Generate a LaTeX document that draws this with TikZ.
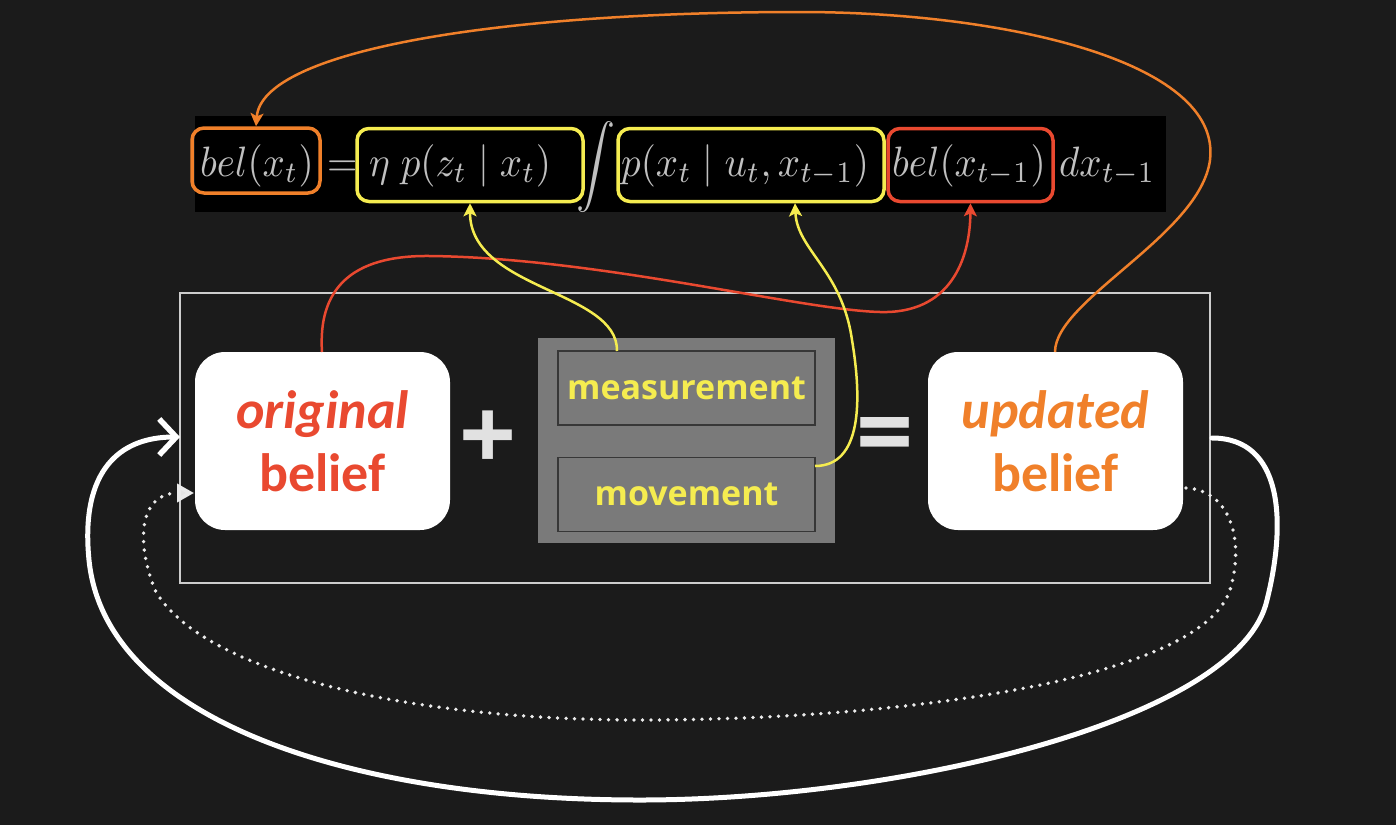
\documentclass[tikz,border=0pt]{standalone}
\usepackage{graphicx}
\usepackage{fontspec}
\newfontfamily\belieffont{Carlito}
\newfontfamily\labfont{Open Sans}
\usetikzlibrary{arrows.meta}
\newcommand{\formulapart}[1]{\scalebox{3.9}[4.25]{$#1$}}
\definecolor{bg}{RGB}{27,27,27}
\definecolor{fgray}{RGB}{192,192,192}
\definecolor{morange}{RGB}{240,128,42}
\definecolor{mred}{RGB}{233,73,48}
\definecolor{myellow}{RGB}{245,236,80}
\definecolor{boxgray}{RGB}{122,122,122}
\definecolor{innerline}{RGB}{55,55,55}
\definecolor{framegray}{RGB}{205,205,205}
\definecolor{opgray}{RGB}{225,225,225}
\begin{document}
\begin{tikzpicture}[x=1pt,y=-1pt,
  mathtxt/.style={text=fgray, inner sep=0pt, anchor=base west},
  termbox/.style={draw=#1, line width=3.5pt, rounded corners=12pt, inner sep=0pt},
  beliefbox/.style={fill=white, rounded corners=30pt, minimum width=255pt, minimum height=178pt,
    inner sep=0pt, align=center, text=#1, font=\belieffont\bfseries\fontsize{54}{63}\selectfont},
  innerbox/.style={draw=innerline, line width=1.5pt, fill=boxgray, minimum width=257pt,
    minimum height=74pt, inner sep=0pt, text=myellow, font=\labfont\bfseries\fontsize{34}{40}\selectfont},
  opsign/.style={text=opgray, inner sep=0pt, font=\labfont\bfseries\fontsize{100}{100}\selectfont},
  thinarrow/.style={line width=2.5pt, -{Stealth[length=13pt,width=13pt,inset=3pt]}},
  loopline/.style={draw=white, line width=5pt, line cap=round},
  dotline/.style={draw=white!92!black, line width=3.8pt, line cap=round, dash pattern=on 0pt off 8.5pt}
]
\useasboundingbox (0,0) rectangle (1396,825);
\fill[bg] (0,0) rectangle (1396,825);

% formula
\fill[black] (195,116) rectangle (1166,212);
\node[termbox=morange, minimum width=128pt, minimum height=65pt] (bA) at (256,160.5) {};
\node[termbox=myellow, minimum width=226pt, minimum height=73pt] (bB) at (470,165) {};
\node[termbox=myellow, minimum width=266pt, minimum height=73pt] (bC) at (751,165) {};
\node[termbox=mred, minimum width=165pt, minimum height=73pt] (bD) at (970.5,165) {};
\node[mathtxt] (tA) at (200,176) {\formulapart{bel(x_t)}};
\node[mathtxt] (tEq) at (327,176) {\formulapart{=}};
\node[mathtxt] (tB) at (369,176) {\formulapart{\eta\;p(z_t\mid x_t)}};
\node[mathtxt, anchor=center] (tInt) at (596,167) {\scalebox{3.9}[4.1]{$\displaystyle\int$}};
\node[mathtxt] (tC) at (621,176) {\formulapart{p(x_t\mid u_t,x_{t-1})}};
\node[mathtxt] (tD) at (892,176) {\formulapart{bel(x_{t-1})}};
\node[mathtxt] (tE) at (1059,176) {\formulapart{dx_{t-1}}};

% lower part
\draw[framegray, line width=1.3pt] (180,293) rectangle (1210,583);
\node[beliefbox=mred] (ob) at (322.5,441) {{\itshape original}\\belief};
\node[opsign] (plus) at (488,441) {+};
\fill[boxgray] (538,338) rectangle (835,543);
\node[innerbox] (meas) at (686.5,388) {measurement};
\node[innerbox] (move) at (686.5,494.5) {movement};
\node[opsign] (eqs) at (885,442) {=};
\node[beliefbox=morange] (ub) at (1055.5,441) {{\itshape updated}\\belief};

% connectors
\coordinate (oS) at (1055,352);
\draw[morange, thinarrow] (oS) .. controls (1055,300) and (1200,235) .. (1210,160)
  .. controls (1222,60) and (1000,12) .. (800,12)
  .. controls (500,12) and (262,50) .. (bA.north);
\coordinate (rS) at (322,352);
\draw[mred, thinarrow] (rS) .. controls (318,290) and (350,255) .. (430,256)
  .. controls (600,258) and (800,310) .. (880,312)
  .. controls (950,314) and (970,260) .. (bD.south);
\coordinate (y1S) at (617,351);
\draw[myellow, thinarrow] (y1S) .. controls (618,290) and (470,290) .. (bB.south);
\coordinate (y2S) at (815,466);
\draw[myellow, thinarrow] (y2S) .. controls (862,466) and (862,400) .. (852,340)
  .. controls (842,270) and (797,250) .. ([xshift=44pt]bC.south);

\coordinate (wS) at (1212,438);
\coordinate (wE) at (180,437);
\draw[loopline, -{Straight Barb[length=17pt,width=36pt,line width=5.5pt]}] (wS) .. controls (1282,438) and (1287,520) .. (1267,600)
  .. controls (1240,720) and (900,800) .. (640,800)
  .. controls (350,800) and (105,720) .. (89,560)
  .. controls (80,470) and (120,437) .. (wE);
\coordinate (dS) at (1186,488);
\coordinate (dE) at (194,493);
\draw[dotline, -{Triangle[length=17pt,width=18pt,fill=white!90!black]}] (dS) .. controls (1230,490) and (1245,540) .. (1230,590)
  .. controls (1200,680) and (900,720) .. (640,720)
  .. controls (400,720) and (200,670) .. (155,590)
  .. controls (135,540) and (140,493) .. (dE);
\end{tikzpicture}
\end{document}
